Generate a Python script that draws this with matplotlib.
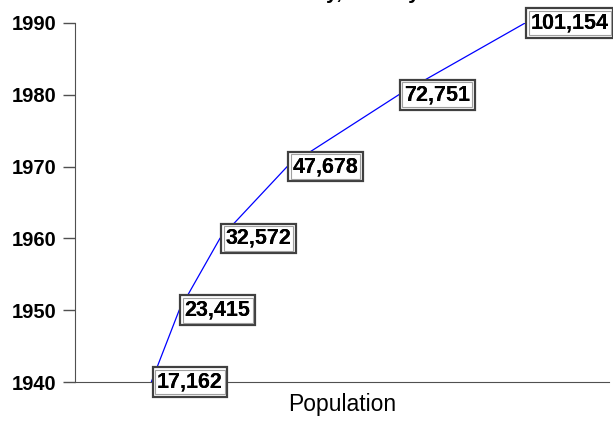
import matplotlib.pyplot as plt

plt.rcParams['font.family'] = ['Liberation Sans', 'DejaVu Sans']

years = [1940, 1950, 1960, 1970, 1980, 1990]
population = [17162, 23415, 32572, 47678, 72751, 101154]
labels = ["17,162", "23,415", "32,572", "47,678", "72,751", "101,154"]

fig = plt.figure(figsize=(6.13, 4.21), dpi=100)
ax = fig.add_axes([0.1223, 0.0926, 0.8712, 0.8528])

ax.plot(population, years, "-", color="#0000ff", linewidth=0.9, zorder=2)

# value boxes, drawn twice to get the double border
for p, y, txt in zip(population, years, labels):
    ax.annotate(txt, xy=(p, y), xytext=(4, 0), textcoords="offset points",
                ha="left", va="center", fontsize=15.5, fontweight="bold",
                color="black", zorder=5,
                bbox=dict(boxstyle="square,pad=0.2", fc="white", ec="#404040", lw=1.6))
    ax.annotate(txt, xy=(p, y), xytext=(4, 0), textcoords="offset points",
                ha="left", va="center", fontsize=15.5, fontweight="bold",
                color="black", zorder=6,
                bbox=dict(boxstyle="square,pad=0.09", fc="none", ec="#a0a0a0", lw=0.8))

ax.set_xlim(0, 120000)
ax.set_ylim(1940, 1990)
ax.set_yticks(years)
ax.set_yticklabels([str(y) for y in years], fontsize=14.5, fontweight="bold")
ax.set_xticks([])

ax.spines["top"].set_visible(False)
ax.spines["right"].set_visible(False)
ax.spines["left"].set_color("#505050")
ax.spines["bottom"].set_color("#505050")
ax.tick_params(axis="y", direction="out", length=8.6, width=1, color="#505050", pad=5)

ax.set_xlabel("Population", fontsize=16.5, labelpad=8)

# title mostly falls above the canvas, only the descenders show
fig.text(298 / 613, 1.003, "City, County", ha="left", va="baseline",
         fontsize=15, fontweight="bold")

fig.savefig("out.png", dpi=100)
